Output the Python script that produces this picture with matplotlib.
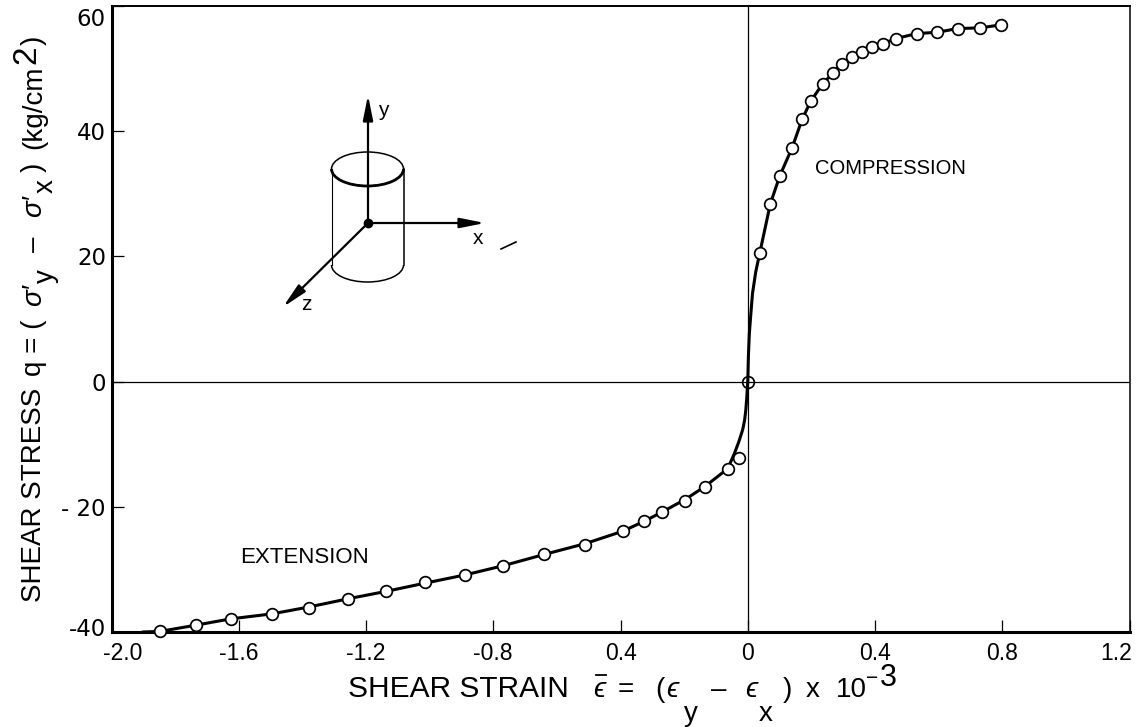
import matplotlib
matplotlib.use("Agg")
import matplotlib.pyplot as plt
from matplotlib.patches import Ellipse, Arc
from matplotlib.transforms import ScaledTranslation
import numpy as np

plt.rcParams['font.family'] = ['Liberation Sans', 'DejaVu Sans']

W, H = 1136, 727

# Measured points (strain x 10^-3, stress kg/cm2)
strain_ext = [-1.847, -1.734, -1.625, -1.495, -1.379, -1.257, -1.136, -1.015, -0.890,
              -0.768, -0.639, -0.512, -0.393, -0.325, -0.268, -0.196, -0.133, -0.063, -0.029]
stress_ext = [-39.9, -38.9, -37.9, -37.1, -36.2, -34.7, -33.5, -32.0, -30.9,
              -29.4, -27.6, -26.1, -23.9, -22.3, -20.8, -19.0, -16.9, -13.9, -12.2]
strain_cmp = [0.038, 0.071, 0.101, 0.139, 0.171, 0.198, 0.236, 0.268, 0.295, 0.327,
              0.360, 0.392, 0.426, 0.465, 0.532, 0.595, 0.660, 0.730, 0.797]
stress_cmp = [20.6, 28.4, 32.9, 37.3, 41.9, 44.8, 47.6, 49.3, 50.8, 51.8,
              52.6, 53.4, 54.0, 54.8, 55.6, 55.8, 56.4, 56.5, 57.0]
strain_origin = [0.0]
stress_origin = [0.0]

# Fitted curve, which leaves the scatter near the origin
curve_strain = [-1.90, -1.847, -1.734, -1.625, -1.495, -1.379, -1.257, -1.136, -1.015, -0.890,
                -0.768, -0.639, -0.512, -0.393, -0.325, -0.268, -0.196, -0.133, -0.063, -0.042,
                -0.028, -0.016, -0.010, -0.006, -0.003, 0.0, 0.002, 0.005, 0.010, 0.015, 0.025,
                0.038, 0.071, 0.101, 0.139, 0.171, 0.198,
                0.236, 0.268, 0.295, 0.327, 0.360, 0.392, 0.426, 0.465, 0.532, 0.595, 0.660,
                0.730, 0.797]
curve_stress = [-40.0, -39.9, -38.9, -37.9, -37.1, -36.0, -34.7, -33.5, -32.2, -30.9,
                -29.4, -27.6, -25.9, -23.9, -22.3, -20.8, -18.8, -16.7, -13.9, -11.5,
                -9.6, -7.7, -6.2, -4.5, -2.5, 0.0, 4.0, 7.7, 11.0, 14.1, 17.5,
                20.6, 28.4, 32.9, 37.3, 41.9, 44.8,
                47.6, 49.3, 50.8, 51.8, 52.6, 53.4, 54.0, 54.8, 55.6, 55.8, 56.4,
                56.5, 57.0]

x_ticks = [-2.0, -1.6, -1.2, -0.8, -0.4, 0.0, 0.4, 0.8, 1.2]
x_tick_labels = ['-2.0', '-1.6', '-1.2', '-0.8', '0.4', '0', '0.4', '0.8', '1.2']
y_ticks = [-40, -20, 0, 20, 40, 60]
y_tick_labels = ['-40', '- 20', '0', '20', '40', '60']

fig = plt.figure(figsize=(W / 100, H / 100), dpi=100)
L, R, T, B = 111.5, 1129.5, 6, 632
ax = fig.add_axes([L / W, 1 - B / H, (R - L) / W, (B - T) / H])
ax.set_xlim(-2.0, 1.2)
ax.set_ylim(-40, 60)

ax.axhline(0, color='black', lw=0.9, zorder=1)
ax.axvline(0, color='black', lw=0.9, zorder=1)
ax.plot(curve_strain, curve_stress, color='black', lw=2.2, zorder=2, clip_on=False)
marker = dict(ls='none', marker='o', ms=8.4, mew=1.25, mec='black', mfc='white', zorder=3, clip_on=False)
ax.plot(strain_ext, stress_ext, **marker)
ax.plot(strain_cmp, stress_cmp, **marker)
ax.plot(strain_origin, stress_origin, **{**marker, 'mfc': 'none'})

for side, w in dict(left=2.2, bottom=2.2, top=1.4, right=1.1).items():
    ax.spines[side].set_linewidth(w)

ax.set_xticks(x_ticks, x_tick_labels)
ax.set_yticks(y_ticks, y_tick_labels)
ax.tick_params(axis='x', direction='in', length=8.5, width=0.9, pad=7, labelsize=16.5)
ax.tick_params(axis='y', direction='in', length=8.5, width=0.9, pad=4, labelsize=16.5,
               labelfontfamily='DejaVu Sans')

def nudge(label, dx, dy):
    label.set_transform(label.get_transform() + ScaledTranslation(dx / 100, -dy / 100, fig.dpi_scale_trans))

xl = ax.get_xticklabels()
nudge(xl[0], 11, 0)
nudge(xl[-1], -13, 0)
yl = ax.get_yticklabels()
nudge(yl[-1], 0, 11)
nudge(yl[0], 0, -5)

# Overlay in image pixels for the sketch and the composed axis titles
ov = fig.add_axes([0, 0, 1, 1], facecolor='none')
ov.set_xlim(0, W)
ov.set_ylim(H, 0)
ov.axis('off')

def label(x, y, s, size=20, rot=0, **kw):
    ov.text(x, y, s, fontsize=size, rotation=rot, rotation_mode='anchor',
            ha='left', va='baseline', color='black', **kw)

# y title
for x, y, s, size, kw in [
    (41, 602, 'SHEAR STRESS', 20, {}),
    (41, 376, 'q = (', 20, {}),
    (41, 306, 'σ′', 20, {'style': 'italic'}),
    (53, 283, 'y', 20, {}),
    (41, 252, '–', 20, {}),
    (41, 217, 'σ′', 20, {'style': 'italic'}),
    (53, 193, 'x', 20, {}),
    (41, 172, ')', 20, {}),
    (41, 149, '(kg/cm', 20, {}),
    (35, 64, '2', 24, {}),
    (41, 45, ')', 20, {}),
]:
    label(x, y, s, size=size, rot=90, **kw)

# x title
for x, y, s, size, kw in [
    (348, 697, 'SHEAR STRAIN', 21.5, {}),
    (593, 697, 'ϵ', 20, {'style': 'italic'}),
    (618, 697, '=', 20, {}),
    (655, 697, '(', 20, {}),
    (666, 697, 'ϵ', 20, {'style': 'italic'}),
    (684, 721, 'y', 20, {}),
    (711, 697, '–', 20, {}),
    (745, 697, 'ϵ', 20, {'style': 'italic'}),
    (759, 721, 'x', 20, {}),
    (783, 697, ')', 20, {}),
    (806, 697, 'x', 20, {}),
    (836, 697, '10', 20, {}),
    (866, 684, '−', 15, {}),
    (880, 686, '3', 22, {}),
]:
    label(x, y, s, size=size, **kw)
ov.plot([596, 606], [675, 675], color='black', lw=1.3)

ov.text(815, 174, 'COMPRESSION', fontsize=14.5, ha='left', va='baseline')
ov.text(240, 563, 'EXTENSION', fontsize=16, ha='left', va='baseline')

# Cylinder sketch
cx, cy = 368, 223
top_y, bot_y = 169, 265
rx, ry = 36, 17
ov.add_patch(Ellipse((cx - 0.5, top_y), 2 * rx, 2 * ry, fill=False, ec='black', lw=1.1))
ov.add_patch(Arc((cx - 0.5, top_y), 2 * rx, 2 * ry, theta1=0, theta2=180, ec='black', lw=2.0))
ov.add_patch(Arc((cx - 0.5, bot_y), 2 * rx, 2 * ry, theta1=0, theta2=180, ec='black', lw=1.1))
ov.plot([cx - 36.5, cx - 36.5], [top_y, bot_y], color='black', lw=0.8)
ov.plot([cx + 35.5, cx + 35.5], [top_y, bot_y], color='black', lw=1.1)
arrow = dict(arrowstyle='-|>,head_length=1.5,head_width=0.3', color='black', lw=1.6, shrinkA=0, shrinkB=0)
for end in [(cx, 95), (485, cy), (283, 307)]:
    ov.annotate('', xy=end, xytext=(cx, cy), arrowprops=arrow)
ov.plot([cx], [cy], marker='o', ms=6, color='black')
ov.text(383, 111, 'y', fontsize=15, ha='center', va='center')
ov.text(478, 239, 'x', fontsize=15, ha='center', va='center')
ov.text(306, 305, 'z', fontsize=15, ha='center', va='center')
ov.plot([501, 516], [249, 242], color='black', lw=1.2)

fig.savefig('out.png', dpi=100)
